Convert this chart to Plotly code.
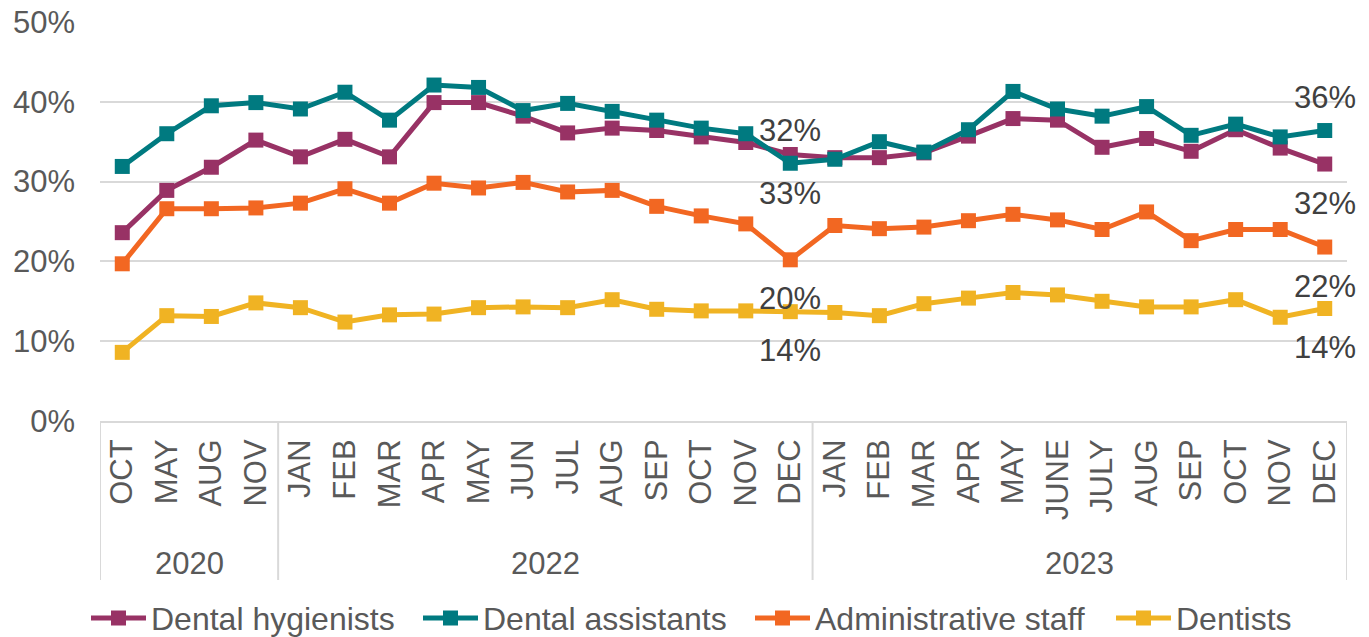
import plotly.graph_objects as go

years = ["2020"] * 4 + ["2022"] * 12 + ["2023"] * 12
months = ["OCT", "MAY", "AUG", "NOV",
          "JAN", "FEB", "MAR", "APR", "MAY", "JUN", "JUL", "AUG", "SEP", "OCT", "NOV", "DEC",
          "JAN", "FEB", "MAR", "APR", "MAY", "JUNE", "JULY", "AUG", "SEP", "OCT", "NOV", "DEC"]

hygienists = [23.6, 28.9, 31.8, 35.2,
              33.1, 35.3, 33.1, 39.9, 39.9, 38.2, 36.1, 36.7, 36.4, 35.6, 34.9, 33.4,
              33.0, 33.0, 33.6, 35.7, 37.9, 37.7, 34.3, 35.4, 33.8, 36.5, 34.2, 32.2]
assistants = [31.9, 36.0, 39.5, 39.9,
              39.1, 41.2, 37.7, 42.1, 41.8, 38.9, 39.8, 38.8, 37.7, 36.7, 36.0, 32.3,
              32.8, 35.0, 33.7, 36.5, 41.3, 39.1, 38.2, 39.4, 35.8, 37.2, 35.6, 36.4]
admin = [19.7, 26.6, 26.6, 26.7,
         27.3, 29.1, 27.3, 29.8, 29.2, 29.9, 28.7, 28.9, 26.9, 25.7, 24.7, 20.2,
         24.5, 24.1, 24.3, 25.1, 25.9, 25.2, 24.0, 26.2, 22.6, 24.0, 24.0, 21.8]
dentists = [8.6, 13.2, 13.1, 14.8,
            14.2, 12.4, 13.3, 13.4, 14.2, 14.3, 14.2, 15.2, 14.0, 13.8, 13.8, 13.7,
            13.6, 13.2, 14.7, 15.4, 16.1, 15.8, 15.0, 14.3, 14.3, 15.2, 13.0, 14.1]

series = [
    ("Dental hygienists", hygienists, "#983265"),
    ("Dental assistants", assistants, "#007A80"),
    ("Administrative staff", admin, "#F26722"),
    ("Dentists", dentists, "#F0B323"),
]

# indices of labelled points (DEC 2022 and DEC 2023)
label_idx = [15, 27]

keys = [f"{m} {y}" for m, y in zip(months, years)]

FONT = "Liberation Sans, Arial, sans-serif"
GRID = "#D9D9D9"
FIG_W, FIG_H = 1361, 629   # page body has an 8px margin
legend_ids = ["legend", "legend2", "legend3", "legend4"]
legend_left_px = [78, 410, 742, 1103]

fig = go.Figure()
for (name, vals, col), lid in zip(series, legend_ids):
    fig.add_trace(go.Scatter(
        x=keys, y=vals, name=name, mode="lines+markers",
        line=dict(color=col, width=5),
        marker=dict(symbol="square", size=15, color=col),
        legend=lid,
    ))

annotations = []
for name, vals, col in series:
    for i in label_idx:
        shift = 33 if name == "Dental assistants" else -39
        annotations.append(dict(
            x=i, y=vals[i], xref="x", yref="y", text=f"{round(vals[i]):.0f}%",
            showarrow=False, yshift=shift,
            font=dict(family=FONT, size=31, color="#404040"),
        ))

# year groups: labels and dividers
shapes = []
groups = []
for i, y in enumerate(years):
    if not groups or groups[-1][0] != y:
        groups.append([y, i, i])
    else:
        groups[-1][2] = i
bounds = sorted({g[1] - 0.5 for g in groups} | {g[2] + 0.5 for g in groups})
for b in bounds:
    shapes.append(dict(type="line", xref="x", yref="paper", x0=b, x1=b,
                       ysizemode="pixel", yanchor=0, y0=0, y1=-159,
                       line=dict(color=GRID, width=2)))
for y, a, b in groups:
    annotations.append(dict(x=(a + b) / 2, y=0, xref="x", yref="paper", text=y,
                            showarrow=False, yanchor="middle", yshift=-142,
                            font=dict(family=FONT, size=31, color="#595959")))

legends = {}
for lid, px in zip(legend_ids, legend_left_px):
    legends[lid] = dict(orientation="h", xref="container", x=px / FIG_W, xanchor="left",
                        yref="container", y=0.03, yanchor="middle",
                        font=dict(family=FONT, size=32, color="#595959"),
                        itemwidth=55, bgcolor="rgba(0,0,0,0)")

fig.update_layout(
    width=FIG_W, height=FIG_H,
    margin=dict(l=92, r=22, t=14, b=216),
    paper_bgcolor="white", plot_bgcolor="white",
    font=dict(family=FONT, size=31, color="#595959"),
    showlegend=True,
    annotations=annotations,
    shapes=shapes,
    **legends,
)
fig.update_yaxes(range=[0, 50], dtick=10, ticksuffix="%", showgrid=True,
                 gridcolor=GRID, gridwidth=2, zeroline=False, showline=False,
                 tickfont=dict(size=31, color="#595959"), ticks="",
                 ticklabelstandoff=24, ticklabeloverflow="allow", automargin=False)
fig.update_xaxes(type="category", range=[-0.5, len(keys) - 0.5],
                 tickmode="array", tickvals=keys, ticktext=months,
                 tickangle=-90, showline=True, mirror=False,
                 linecolor=GRID, linewidth=2, showgrid=False, ticks="",
                 ticklabelstandoff=4, automargin=False,
                 tickfont=dict(size=31, color="#595959"))

fig.write_html("out.html")
